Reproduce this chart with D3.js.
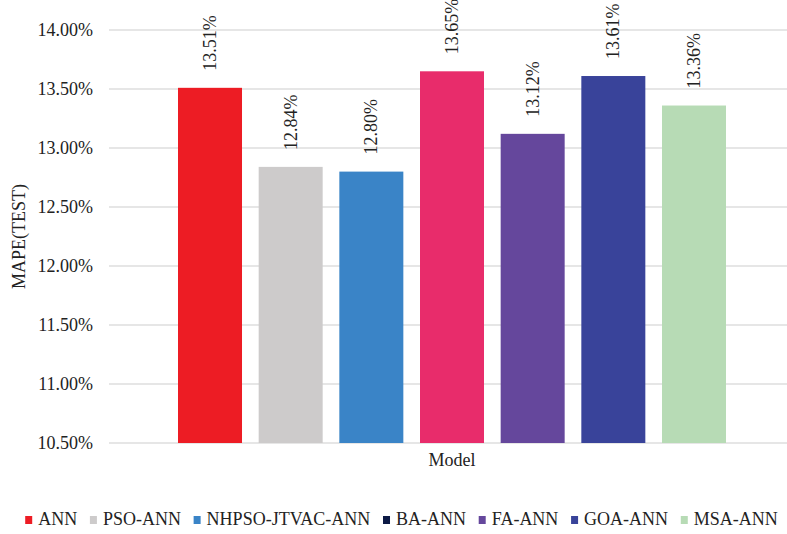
<!DOCTYPE html>
<html><head><meta charset="utf-8">
<script src="https://cdn.jsdelivr.net/npm/d3@7"></script>
<style>body{margin:0;background:#fff}svg{display:block}text{font-family:"Liberation Serif","Times New Roman",serif}</style>
</head><body>
<svg id="c" width="787" height="534"></svg>
<script>
const models = ["ANN","PSO-ANN","NHPSO-JTVAC-ANN","BA-ANN","FA-ANN","GOA-ANN","MSA-ANN"];
const values = [13.51, 12.84, 12.80, 13.65, 13.12, 13.61, 13.36];
const barColors = ["#ED1C24","#CDCBCB","#3A84C7","#E82C6B","#65479C","#39439A","#B7DBB5"];
const legendColors = ["#ED1C24","#CDCBCB","#3A84C7","#0C1A45","#65479C","#39439A","#B7DBB5"];
const yTicks = [10.5, 11.0, 11.5, 12.0, 12.5, 13.0, 13.5, 14.0];

const svg = d3.select("#c");
const plot = {left:109, right:787, top:30, bottom:443};
const y = d3.scaleLinear().domain([10.5, 14.0]).range([plot.bottom, plot.top]);
const x = d3.scaleBand().domain(models).range([169.7, 734.3]).paddingInner(0.2066).paddingOuter(0.103);

// gridlines
svg.append("g").selectAll("line").data(yTicks).join("line")
  .attr("x1", plot.left).attr("x2", plot.right)
  .attr("y1", d=>y(d)).attr("y2", d=>y(d))
  .attr("stroke", "#dedede").attr("stroke-width", 1.3);

// y axis labels
const yAxis = d3.axisLeft(y).tickValues(yTicks).tickFormat(d=>d.toFixed(2)+"%").tickSize(0).tickPadding(0);
const ga = svg.append("g").attr("transform", `translate(93,0)`).call(yAxis);
ga.attr("font-family", null);
ga.select(".domain").remove();
ga.selectAll("text").attr("font-size", 18).attr("fill", "#222").attr("dy", "0.33em");

// bars
svg.append("g").selectAll("rect").data(models).join("rect")
  .attr("x", d=>x(d)).attr("width", x.bandwidth())
  .attr("y", (d,i)=>y(values[i])).attr("height", (d,i)=>plot.bottom - y(values[i]))
  .attr("fill", (d,i)=>barColors[i]);

// value labels
svg.append("g").selectAll("text").data(models).join("text")
  .attr("transform", (d,i)=>`translate(${x(d)+x.bandwidth()/2+6},${y(values[i])-17}) rotate(-90)`)
  .attr("font-size", 18).attr("fill", "#222")
  .text((d,i)=>values[i].toFixed(2)+"%");

// axis titles
svg.append("text").attr("x", 452).attr("y", 466).attr("text-anchor","middle")
  .attr("font-size", 18).attr("fill","#222").text("Model");
svg.append("text").attr("transform", `translate(25,${(plot.top+plot.bottom)/2}) rotate(-90)`)
  .attr("text-anchor","middle").attr("font-size", 18).attr("fill","#222").text("MAPE(TEST)");

// legend
const lg = svg.append("g");
const items = lg.selectAll("g").data(models).join("g");
items.append("rect").attr("width", 7).attr("height", 8).attr("y", -9).attr("fill", (d,i)=>legendColors[i]);
items.append("text").attr("x", 13).attr("font-size", 18).attr("fill","#222").text(d=>d);
let cx = 0;
const gap = 12.7;
items.each(function(){
  const g = d3.select(this);
  g.attr("transform", `translate(${cx},0)`);
  cx += 13 + g.select("text").node().getComputedTextLength() + gap;
});
const total = cx - gap;
lg.attr("transform", `translate(${401.5 - total/2},525)`);
</script>
</body></html>
